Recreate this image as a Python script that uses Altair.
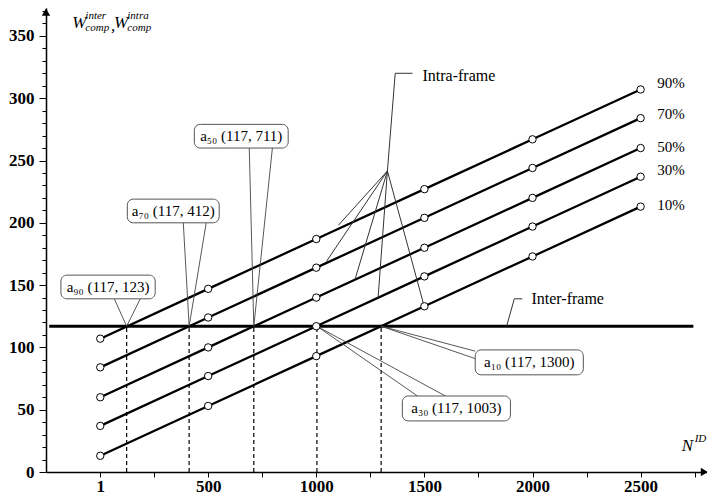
import altair as alt
import pandas as pd

# ---- data ----
series = ["90%", "70%", "50%", "30%", "10%"]
n_id = [1, 500, 1000, 1500, 2000, 2500]
w90 = [107, 147, 187, 227, 267, 307]
w70 = [84, 124, 164, 204, 244, 284]
w50 = [60, 100, 140, 180, 220, 260]
w30 = [37, 77, 117, 157, 197, 237]
w10 = [13, 53, 93, 133, 173, 213]
series_values = [w90, w70, w50, w30, w10]

inter_frame = 117
inter_x = [-235, 2744]

cross_names = ["a₉₀", "a₇₀", "a₅₀", "a₃₀", "a₁₀"]
cross_x = [123, 412, 711, 1003, 1300]

x_tick_values = [1, 250, 500, 750, 1000, 1250, 1500, 1750, 2000, 2250, 2500, 2750]
y_tick_values = list(range(0, 371, 10))

# series labels on the right (data units)
label_x = [2577] * 5
label_y = [312, 287, 261, 242, 214]

# annotation boxes (data units): a90, a70, a50, a30, a10
box_x1 = [-181, 126, 436, 1398, 1735]
box_x2 = [255, 551, 870, 1898, 2235]
box_y1 = [139, 200, 260, 41, 78]
box_y2 = [158, 219, 279, 61, 98]
# pointer ends at the box for each crossing
ptr_a = [(66, 139), (385, 200), (690, 260), (1468, 61), (1735, 97)]
ptr_b = [(186, 139), (491, 200), (797, 260), (1597, 61), (1735, 91)]

# intra-frame leader
intra_hub = (1329, 241.6)
intra_path = [(1445, 320), (1365, 320), (1329, 241.6)]
intra_ends = [(1102, 198), (1047, 169), (1180, 155), (1286, 140), (1499, 133)]
intra_text = (1491, 318)
# inter-frame leader
inter_path = [(1880, 117), (1916, 139), (1953, 139)]
inter_text = (1995, 139)

FONT = "Liberation Serif"

xs = alt.Scale(domain=[-250, 2807], nice=False, zero=False)
ys = alt.Scale(domain=[0, 372.4], nice=False, zero=False)
xaxis = alt.Axis(values=x_tick_values, format="d",
                 labelExpr="(datum.value % 500 == 0 || datum.value == 1) ? datum.label : ''",
                 title=None, grid=False, domainColor="black", domainWidth=1.5,
                 tickColor="black", tickWidth=1, tickSize=5, labelPadding=1,
                 labelFont=FONT, labelFontWeight="bold", labelFontSize=17,
                 labelColor="black")
yaxis = alt.Axis(values=y_tick_values, format="d",
                 labelExpr="datum.value % 50 == 0 ? datum.label : ''",
                 title=None, grid=False, domainColor="black", domainWidth=1.5,
                 tickColor="black", tickWidth=1,
                 tickSize={"condition": {"test": "datum.value % 50 === 0", "value": 7}, "value": 4},
                 labelPadding=5,
                 labelFont=FONT, labelFontWeight="bold", labelFontSize=17,
                 labelColor="black")
X = alt.X("x:Q", scale=xs, axis=xaxis)
Y = alt.Y("y:Q", scale=ys, axis=yaxis)

# ---- tables ----
rows = []
for s, vals in zip(series, series_values):
    for xv, yv in zip(n_id, vals):
        rows.append({"series": s, "x": xv, "y": yv})
line_df = pd.DataFrame(rows)

inter_df = pd.DataFrame([{"x": inter_x[0], "x2": inter_x[1], "y": inter_frame, "y2": inter_frame}])
drop_df = pd.DataFrame([{"x": c, "x2": c, "y": 0, "y2": inter_frame} for c in cross_x])

segs = []
for c, a, b in zip(cross_x, ptr_a, ptr_b):
    segs.append({"x": c, "y": inter_frame, "x2": a[0], "y2": a[1]})
    segs.append({"x": c, "y": inter_frame, "x2": b[0], "y2": b[1]})
ptr_df = pd.DataFrame(segs)

lead = []
for p, q in zip(intra_path[:-1], intra_path[1:]):
    lead.append({"x": p[0], "y": p[1], "x2": q[0], "y2": q[1]})
for e in intra_ends:
    lead.append({"x": intra_hub[0], "y": intra_hub[1], "x2": e[0], "y2": e[1]})
for p, q in zip(inter_path[:-1], inter_path[1:]):
    lead.append({"x": p[0], "y": p[1], "x2": q[0], "y2": q[1]})
lead_df = pd.DataFrame(lead)

box_df = pd.DataFrame({
    "x": box_x1, "x2": box_x2, "y": box_y1, "y2": box_y2,
    "label": [f"{n} (117, {c})" for n, c in zip(cross_names, cross_x)],
})
box_df["cx"] = (box_df["x"] + box_df["x2"]) / 2
box_df["cy"] = (box_df["y"] + box_df["y2"]) / 2

lab_df = pd.DataFrame({"x": label_x, "y": label_y, "label": series})
lead_text_df = pd.DataFrame([
    {"x": intra_text[0], "y": intra_text[1], "label": "Intra-frame"},
    {"x": inter_text[0], "y": inter_text[1], "label": "Inter-frame"},
])

# axis titles built of pieces (data units)
title_big = pd.DataFrame([
    {"x": -96, "y": 360, "label": "W"},
    {"x": 60, "y": 358, "label": ","},
    {"x": 97, "y": 360, "label": "W"},
    {"x": 2716, "y": 21, "label": "N"},
])
title_small = pd.DataFrame([
    {"x": -68, "y": 366, "label": "inter"},
    {"x": -68, "y": 356.5, "label": "comp"},
    {"x": 126, "y": 366, "label": "intra"},
    {"x": 126, "y": 356.5, "label": "comp"},
    {"x": 2750, "y": 26.5, "label": "ID"},
])

arrow_up = pd.DataFrame([{"x": -250, "y": 369}])
arrow_right = pd.DataFrame([{"x": 2795, "y": 0}])

# ---- layers ----
lines = alt.Chart(line_df).mark_line(color="black", strokeWidth=2.3).encode(
    x=X, y=Y, detail="series:N")
points = alt.Chart(line_df).mark_point(shape="circle", filled=True, fill="white",
                                        stroke="black", strokeWidth=1, size=55,
                                        opacity=1).encode(x=X, y=Y)
inter = alt.Chart(inter_df).mark_rule(color="black", strokeWidth=3).encode(
    x=X, x2="x2", y=Y, y2="y2")
drops = alt.Chart(drop_df).mark_rule(color="black", strokeWidth=1.2, strokeDash=[4, 3]).encode(
    x=X, x2="x2", y=Y, y2="y2")
pointers = alt.Chart(ptr_df).mark_rule(color="#444", strokeWidth=0.9).encode(
    x=X, x2="x2", y=Y, y2="y2")
leaders = alt.Chart(lead_df).mark_rule(color="#333", strokeWidth=1).encode(
    x=X, x2="x2", y=Y, y2="y2")
boxes = alt.Chart(box_df).mark_rect(fill="white", stroke="#555", strokeWidth=1,
                                    cornerRadius=6).encode(x=X, x2="x2", y=Y, y2="y2")
box_text = alt.Chart(box_df).mark_text(font=FONT, fontSize=15, color="black",
                                       align="center", baseline="middle").encode(
    x=alt.X("cx:Q", scale=xs, axis=xaxis), y=alt.Y("cy:Q", scale=ys, axis=yaxis), text="label:N")
labels = alt.Chart(lab_df).mark_text(font=FONT, fontSize=15, color="black",
                                     align="left", baseline="middle").encode(
    x=X, y=Y, text="label:N")
lead_text = alt.Chart(lead_text_df).mark_text(font=FONT, fontSize=16, color="black",
                                              align="left", baseline="middle").encode(
    x=X, y=Y, text="label:N")
t_big = alt.Chart(title_big).mark_text(font=FONT, fontSize=17, fontStyle="italic",
                                       color="black", align="center",
                                       baseline="middle").encode(x=X, y=Y, text="label:N")
t_small = alt.Chart(title_small).mark_text(font=FONT, fontSize=11, fontStyle="italic",
                                           color="black", align="left",
                                           baseline="middle").encode(x=X, y=Y, text="label:N")
a_up = alt.Chart(arrow_up).mark_point(shape="triangle-up", filled=True, color="black",
                                      size=70, opacity=1).encode(x=X, y=Y)
a_right = alt.Chart(arrow_right).mark_point(shape="triangle-right", filled=True,
                                            color="black", size=70, opacity=1).encode(x=X, y=Y)

chart = alt.layer(
    drops, inter, lines, pointers, leaders, boxes, box_text, points, labels,
    lead_text, t_big, t_small, a_up, a_right
).properties(
    width=661, height=464,
    autosize=alt.AutoSizeParams(type="none"),
    padding={"left": 38, "top": 0, "right": 0, "bottom": 24},
    background="white",
).configure_view(stroke=None)

chart.save("out.html", embed_options={"renderer": "svg", "actions": False})
